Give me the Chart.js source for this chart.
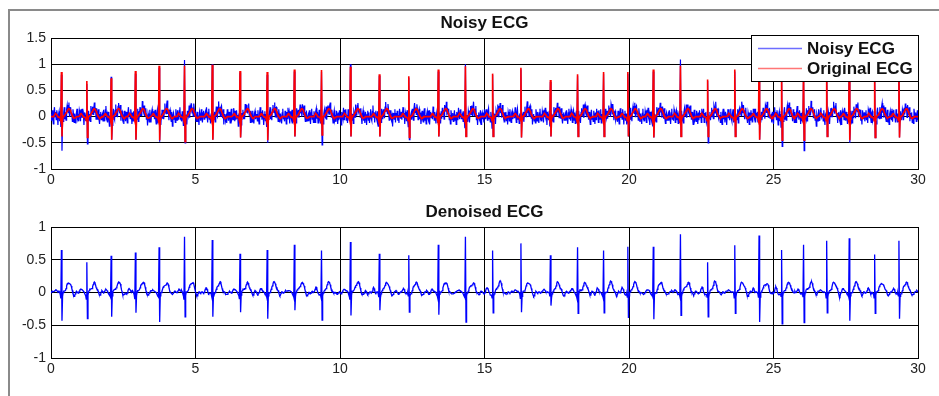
<!DOCTYPE html>
<html>
<head>
<meta charset="utf-8">
<script src="https://cdn.jsdelivr.net/npm/chart.js@4.4.1/dist/chart.umd.min.js"></script>
<style>
  body { margin: 0; background: #fff; width: 939px; height: 396px; overflow: hidden; position: relative; }
  #frame { position: absolute; left: 8px; top: 9px; right: 0; bottom: 0; border-top: 2px solid #8a8a8a; border-left: 2px solid #8a8a8a; }
  canvas { position: absolute; left: 0; }
</style>
</head>
<body>
<div id="frame"></div>
<canvas id="noisyChart" width="939" height="198" style="top:0"></canvas>
<canvas id="denoisedChart" width="939" height="198" style="top:198px"></canvas>
<script>
// R-peak times (s)
const beatTimes = [0.36, 1.24, 2.09, 2.91, 3.74, 4.62, 5.57, 6.53, 7.48, 8.41, 9.35,
  10.35, 11.36, 12.38, 13.39, 14.34, 15.28, 16.26, 17.27, 18.21, 19.12, 19.97,
  20.83, 21.78, 22.72, 23.65, 24.50, 25.27, 26.03, 26.84, 27.62, 28.50, 29.34];

// peak / trough of each beat, per trace
const origR = [0.85, 0.68, 0.73, 0.87, 0.97, 0.97, 0.99, 0.87, 0.85, 0.90, 0.89, 0.95, 0.81, 0.77, 0.90, 0.96, 0.82,
  0.93, 0.70, 0.81, 0.85, 0.85, 0.90, 0.97, 0.71, 0.90, 0.95, 0.85, 0.90, 0.95, 0.95, 0.80, 0.95];
const origS = [-0.38, -0.40, -0.44, -0.44, -0.45, -0.48, -0.44, -0.40, -0.45, -0.38, -0.35, -0.38, -0.38, -0.40, -0.38, -0.38, -0.38,
  -0.40, -0.38, -0.38, -0.38, -0.38, -0.40, -0.38, -0.38, -0.38, -0.44, -0.45, -0.45, -0.38, -0.45, -0.40, -0.40];
const noisyR = [0.80, 0.62, 0.76, 0.82, 0.93, 1.08, 1.00, 0.84, 0.80, 0.86, 0.85, 1.00, 0.78, 0.74, 0.86, 1.00, 0.80,
  0.90, 0.66, 0.78, 0.82, 0.82, 0.86, 1.09, 0.68, 0.86, 0.92, 0.82, 0.86, 0.92, 0.92, 0.78, 0.92];
const noisyS = [-0.65, -0.52, -0.44, -0.44, -0.48, -0.50, -0.44, -0.40, -0.50, -0.38, -0.54, -0.38, -0.38, -0.44, -0.38, -0.38, -0.38,
  -0.40, -0.38, -0.38, -0.38, -0.38, -0.40, -0.38, -0.50, -0.38, -0.44, -0.57, -0.65, -0.38, -0.50, -0.40, -0.40];
const denR = [0.65, 0.46, 0.56, 0.61, 0.69, 0.85, 0.80, 0.59, 0.65, 0.73, 0.64, 0.77, 0.59, 0.57, 0.73, 0.85, 0.64,
  0.75, 0.57, 0.69, 0.64, 0.70, 0.70, 0.89, 0.46, 0.72, 0.87, 0.65, 0.73, 0.79, 0.83, 0.58, 0.79];
const denS = [-0.43, -0.40, -0.37, -0.31, -0.45, -0.37, -0.37, -0.30, -0.40, -0.27, -0.42, -0.35, -0.27, -0.30, -0.34, -0.45, -0.31,
  -0.30, -0.20, -0.32, -0.31, -0.39, -0.41, -0.35, -0.37, -0.32, -0.45, -0.48, -0.46, -0.31, -0.43, -0.32, -0.40];

// one beat, sampled every 0.02 s from -0.30 s to +0.50 s (R at index 15, S at 16)
const beatShape = [0, 0, 0.01, 0.03, 0.05, 0.06, 0.05, 0.03, 0.01, 0, 0, -0.01, -0.02, -0.03, -0.08, 0, 0,
  -0.05, 0, 0.01, 0.02, 0.03, 0.05, 0.07, 0.09, 0.11, 0.13, 0.145, 0.15, 0.145, 0.13, 0.10, 0.07, 0.04,
  0.02, 0, -0.02, -0.03, -0.03, -0.02, -0.01];

// measurement noise on the noisy trace, residual wiggle on the denoised one
const noiseTop = [0.05, -0.08, 0.12, -0.03, -0.14, 0.07, 0.15, -0.05, 0.03, -0.11, 0.09, 0.01, -0.16, 0.04, 0.11, -0.07,
  0.08, -0.12, 0.00, 0.14, -0.04, -0.09, 0.07, 0.16, -0.08, 0.03, -0.14, 0.05, 0.11, -0.03, -0.07, 0.12, -0.15, 0.04,
  0.08, -0.05, 0.01, -0.11, 0.14, 0.05, -0.08, 0.09, -0.01, -0.12, 0.07, 0.15, -0.04, 0.00, -0.09, 0.11, 0.03, -0.14,
  0.08, -0.07, 0.12, -0.03, 0.04, -0.16, 0.09, 0.01, -0.05, 0.14, -0.11, 0.07, -0.01, 0.11, -0.08, 0.03, -0.12, 0.15,
  0.05, -0.04, 0.08, -0.09, 0.00, 0.12, -0.07, 0.04, -0.15, 0.09, 0.03, -0.08, 0.14, -0.03, -0.11, 0.07, 0.11, -0.05, 0.01];
const noiseDen = [0, 0.01, 0.02, 0.02, 0.01, 0, -0.01, -0.02, -0.02, -0.01, 0, 0.01, 0.01, 0.02, 0.03, 0.02, 0, -0.01,
  -0.03, -0.02, -0.01, 0, 0.01, 0, -0.01, -0.02, -0.01, 0.01, 0.02, 0.01, 0, -0.01, -0.01, 0, 0.02, 0.03, 0.02, 0.01,
  -0.01, -0.02, -0.03, -0.02, 0, 0.01, 0.02, 0.01, 0, -0.01, 0, 0.01, 0.01, 0, -0.01];

const xTicks = [0, 5, 10, 15, 20, 25, 30];
const yTicksTop = [-1, -0.5, 0, 0.5, 1, 1.5];
const yTicksBottom = [-1, -0.5, 0, 0.5, 1];

const STEP = 0.02;
const N = 1501;

function buildTrace(rVals, sVals, residual) {
  const y = new Array(N).fill(0);
  const peaks = new Set();
  beatTimes.forEach((t, b) => {
    const k0 = Math.round(t / STEP) - 15;
    beatShape.forEach((v, j) => {
      const k = k0 + j;
      if (k < 0 || k >= N) return;
      if (j === 15) { y[k] = rVals[b]; peaks.add(k); }
      else if (j === 16) { y[k] = sVals[b]; peaks.add(k); }
      else y[k] = v;
    });
  });
  return y.map((v, i) => ({
    x: +(i * STEP).toFixed(2),
    y: peaks.has(i) || !residual ? v : v + residual[i % residual.length]
  }));
}

const FONT = '"Liberation Sans", Arial, Helvetica, sans-serif';

const frameText = {
  id: "frameText",
  afterDraw(chart, args, opts) {
    const { ctx, chartArea: a } = chart;
    ctx.save();
    ctx.fillStyle = "#111";
    ctx.font = `bold 17px ${FONT}`;
    ctx.textAlign = "center";
    ctx.textBaseline = "middle";
    ctx.fillText(opts.title, (a.left + a.right) / 2, a.top - 15);
    if (opts.legend) {
      const L = opts.legend;
      ctx.fillStyle = "#fff";
      ctx.fillRect(L.x, L.y, L.w, L.h);
      ctx.strokeStyle = "#000";
      ctx.lineWidth = 1;
      ctx.strokeRect(L.x + 0.5, L.y + 0.5, L.w, L.h);
      ctx.font = `bold 17px ${FONT}`;
      ctx.textAlign = "left";
      L.colors.forEach((c, i) => {
        const yy = L.y + 13.5 + i * 20;
        ctx.strokeStyle = c;
        ctx.lineWidth = 1.5;
        ctx.beginPath();
        ctx.moveTo(L.x + 7, yy);
        ctx.lineTo(L.x + 51, yy);
        ctx.stroke();
        ctx.fillStyle = "#111";
        ctx.fillText(chart.data.datasets[i].label, L.x + 56, yy + 0.5);
      });
    }
    ctx.restore();
  }
};

function makeOptions(yTicks, padding, plugOpts) {
  return {
    responsive: false,
    animation: false,
    parsing: false,
    normalized: true,
    events: [],
    layout: { padding },
    elements: { point: { radius: 0 }, line: { borderWidth: 1, tension: 0 } },
    plugins: { legend: { display: false }, tooltip: { enabled: false }, frameText: plugOpts },
    scales: {
      x: {
        type: "linear",
        min: xTicks[0],
        max: xTicks[xTicks.length - 1],
        afterBuildTicks: (s) => { s.ticks = xTicks.map((v) => ({ value: v })); },
        afterFit: (s) => { s.height = 20; s.paddingLeft = 0; s.paddingRight = 0; },
        grid: { color: "#000", lineWidth: 1, drawTicks: false },
        border: { color: "#000", width: 1 },
        ticks: { color: "#222", padding: 3, maxRotation: 0, font: { family: FONT, size: 14 } }
      },
      y: {
        min: yTicks[0],
        max: yTicks[yTicks.length - 1],
        afterBuildTicks: (s) => { s.ticks = yTicks.map((v) => ({ value: v })); },
        afterFit: (s) => { s.width = 40; s.paddingTop = 0; s.paddingBottom = 0; },
        grid: { color: "#000", lineWidth: 1, drawTicks: false },
        border: { color: "#000", width: 1 },
        ticks: { color: "#222", padding: 5, font: { family: FONT, size: 14 }, callback: (v) => String(v) }
      }
    }
  };
}

new Chart(document.getElementById("noisyChart"), {
  type: "line",
  data: {
    datasets: [
      { label: "Noisy ECG", data: buildTrace(noisyR, noisyS, noiseTop), borderColor: "#0000ff", borderWidth: 1.2, order: 1 },
      { label: "Original ECG", data: buildTrace(origR, origS, null), borderColor: "#ff0000", borderWidth: 1.6, order: 0 }
    ]
  },
  options: makeOptions(yTicksTop, { left: 11, right: 21, top: 38, bottom: 9 }, {
    title: "Noisy ECG",
    legend: { x: 751, y: 35, w: 167, h: 46, colors: ["rgba(60,60,255,0.75)", "rgba(255,60,60,0.7)"] }
  }),
  plugins: [frameText]
});

new Chart(document.getElementById("denoisedChart"), {
  type: "line",
  data: {
    datasets: [
      { label: "Denoised ECG", data: buildTrace(denR, denS, noiseDen), borderColor: "#0000ff", borderWidth: 1.3 }
    ]
  },
  options: makeOptions(yTicksBottom, { left: 11, right: 21, top: 29, bottom: 18 }, { title: "Denoised ECG" }),
  plugins: [frameText]
});
</script>
</body>
</html>
